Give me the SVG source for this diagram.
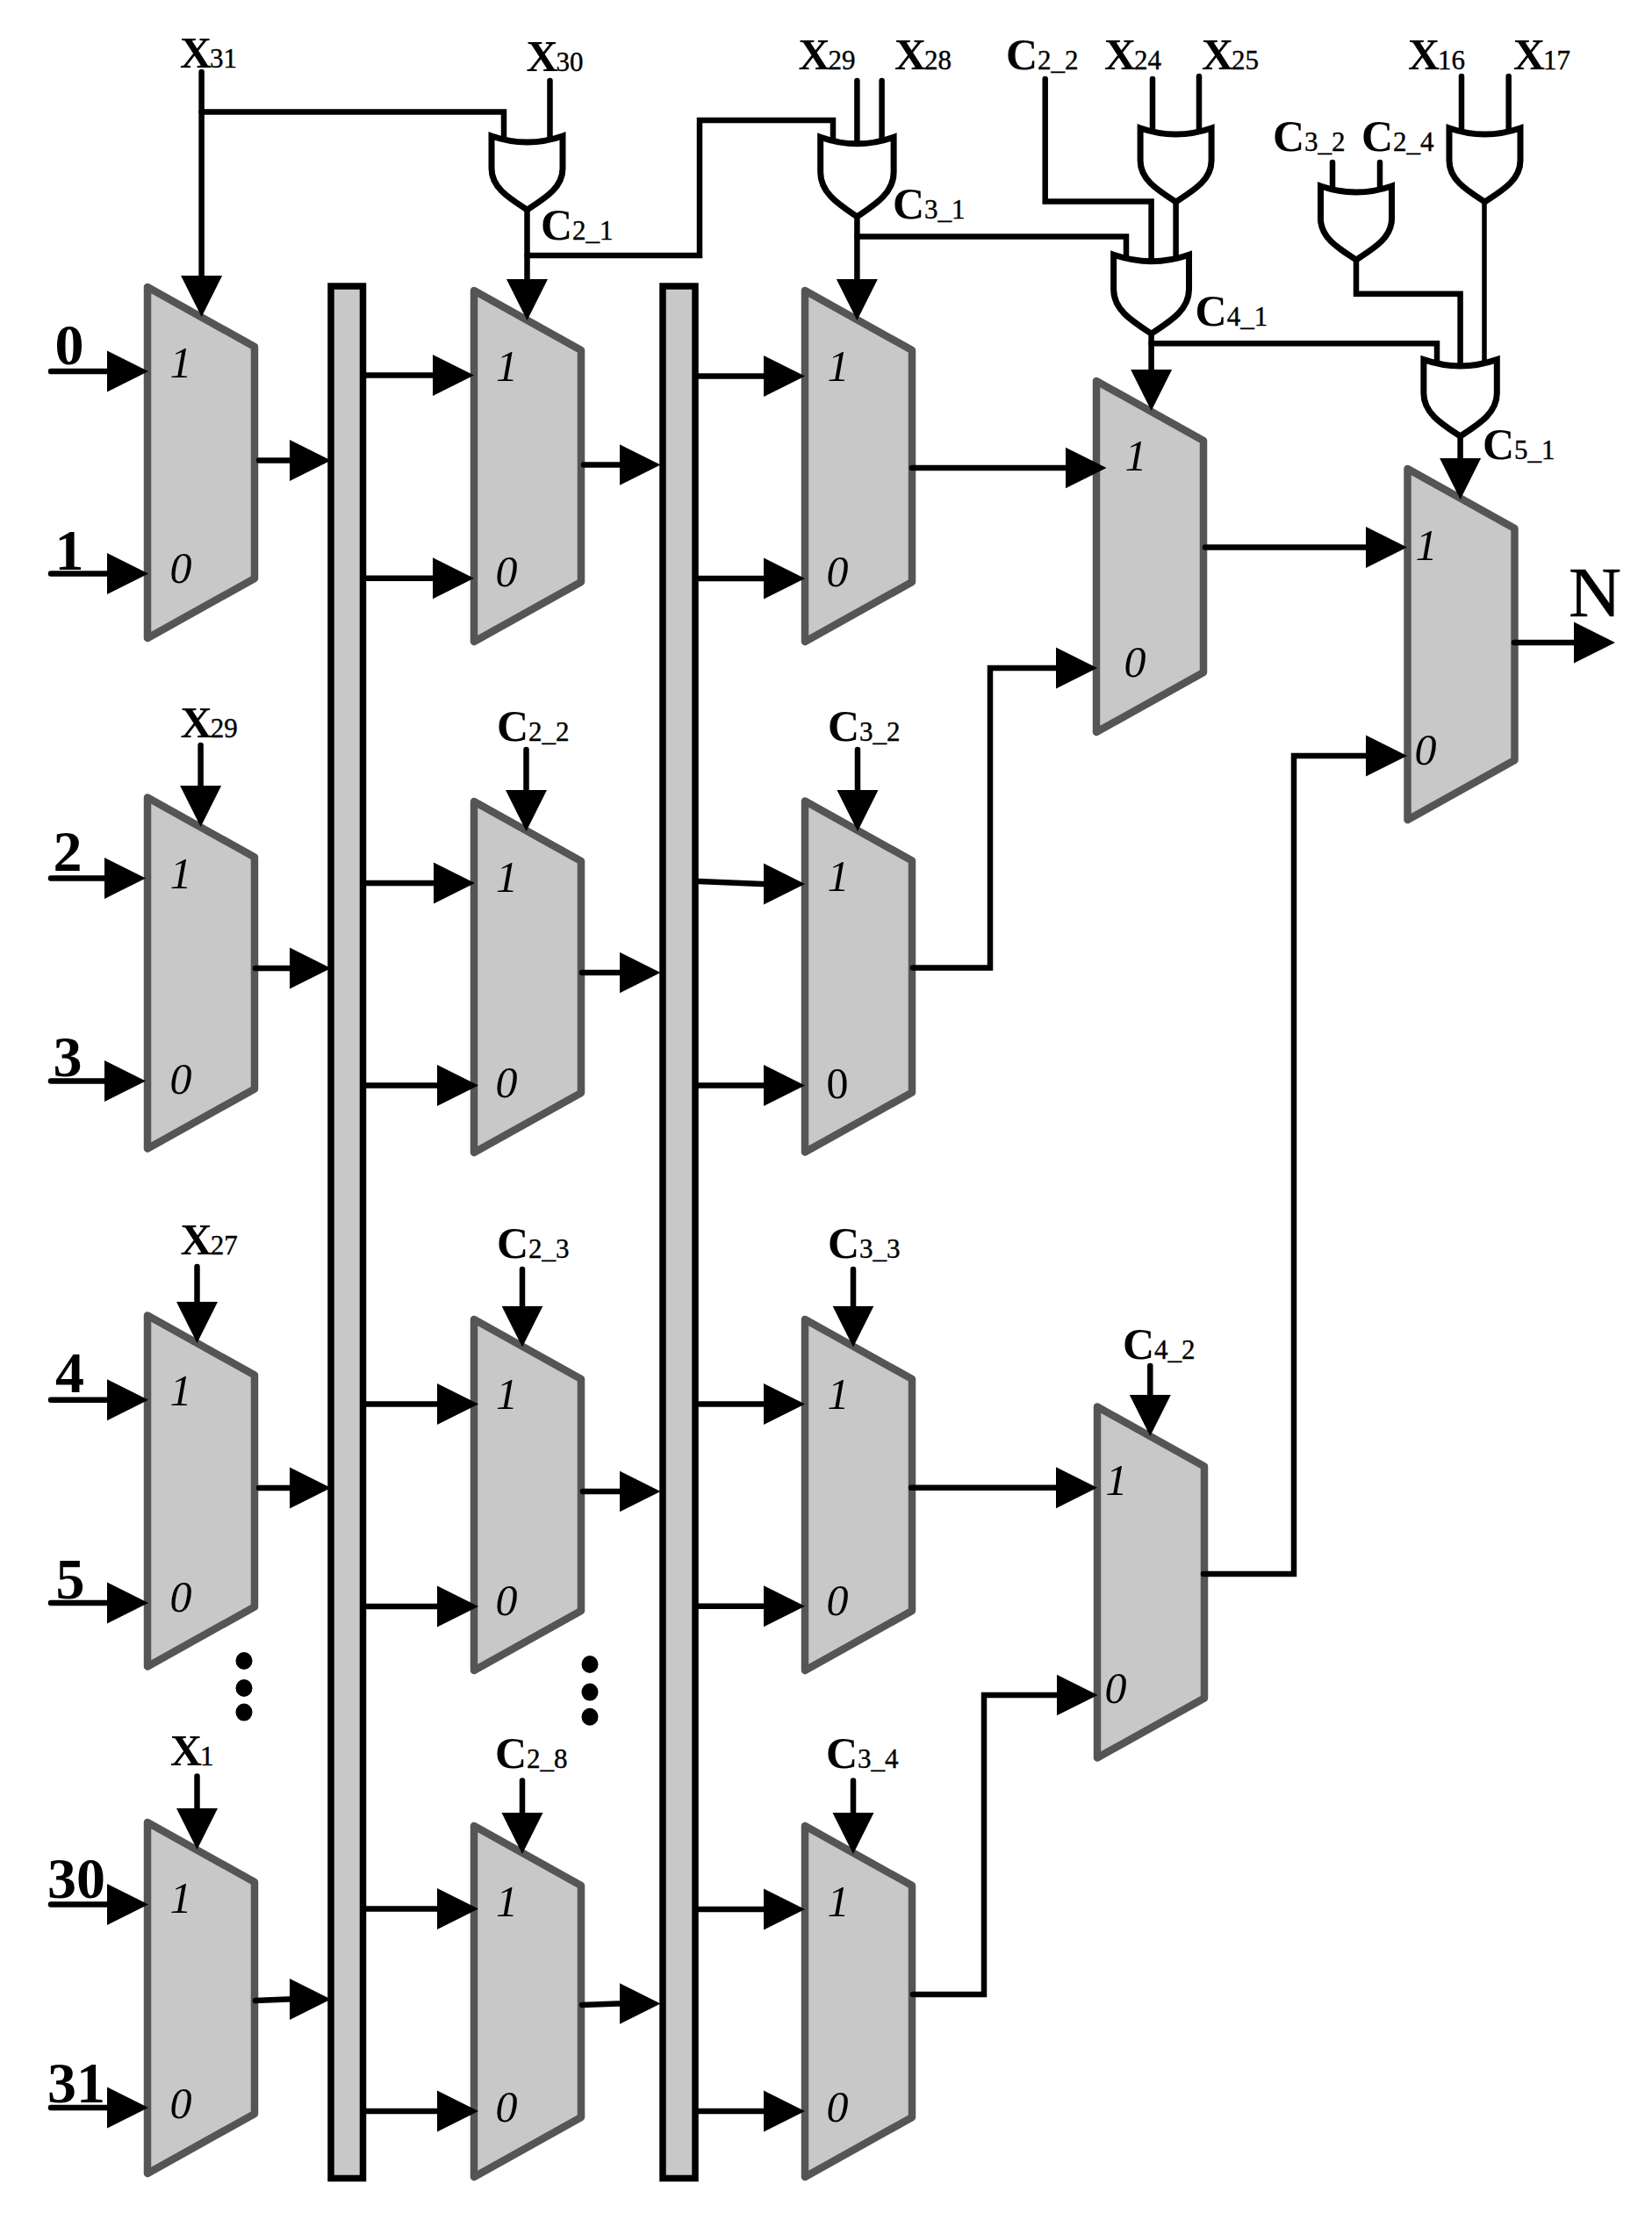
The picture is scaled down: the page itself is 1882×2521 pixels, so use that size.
<svg xmlns="http://www.w3.org/2000/svg" width="1882" height="2521" viewBox="0 0 1882 2521">
<style>
text{font-family:"Liberation Serif","Times New Roman",serif;fill:#000}
.bg{fill:#fff}
.mx{fill:#c8c8c8;stroke:#555;stroke-width:8.5;stroke-linejoin:round}
.bar{fill:#c8c8c8;stroke:#000;stroke-width:7.5}
.w{fill:none;stroke:#000;stroke-width:6.5;stroke-linecap:round;stroke-linejoin:miter}
.a{marker-end:url(#arr)}
.or{fill:#fff;stroke:#000;stroke-width:7;stroke-linejoin:miter;stroke-miterlimit:8;vector-effect:non-scaling-stroke}
.s{font-size:50px;font-style:italic;text-anchor:middle}
.in{font-size:66px;font-weight:bold;text-anchor:middle}
.lb{font-size:31px;stroke:#000;stroke-width:.4}
.m{font-size:50px;font-weight:bold;stroke:none}
.n{font-size:80px;stroke:#000;stroke-width:.6}
</style>
<defs>
<marker id="arr" markerUnits="userSpaceOnUse" viewBox="0 -24 47 48" refX="0" refY="0" markerWidth="47" markerHeight="48" orient="auto"><path d="M0,-23.5L47,0L0,23.5z" fill="#000"/></marker>
<polygon id="mux" class="mx" points="0,0 122,68 122,332 0,400"/>
<path id="orgate" class="or" d="M-40.5,3Q0,17 40.5,3V40C40.5,62 20,74 0,87C-20,74 -40.5,62 -40.5,40Z"/>
</defs>
<rect class="bg" width="1882" height="2521"/>
<g id="bar-1"><rect class="bar" x="377" y="326" width="36.5" height="2155.5"/></g>
<g id="bar-2"><rect class="bar" x="755" y="326" width="37" height="2155.5"/></g>
<g id="mux-1-1" transform="translate(168,327)"><use href="#mux"/><text class="s" x="38" y="103">1</text><text class="s" x="38" y="337">0</text></g>
<g id="mux-1-2" transform="translate(168,908.5)"><use href="#mux"/><text class="s" x="38" y="103">1</text><text class="s" x="38" y="337">0</text></g>
<g id="mux-1-3" transform="translate(168,1498.5)"><use href="#mux"/><text class="s" x="38" y="102">1</text><text class="s" x="38" y="337">0</text></g>
<g id="mux-1-4" transform="translate(168,2076)"><use href="#mux"/><text class="s" x="38" y="103">1</text><text class="s" x="38" y="337">0</text></g>
<g id="mux-2-1" transform="translate(540,331)"><use href="#mux"/><text class="s" x="37.5" y="103">1</text><text class="s" x="37" y="337">0</text></g>
<g id="mux-2-2" transform="translate(540,913)"><use href="#mux"/><text class="s" x="37.5" y="103">1</text><text class="s" x="37" y="337">0</text></g>
<g id="mux-2-3" transform="translate(540,1503)"><use href="#mux"/><text class="s" x="37.5" y="102">1</text><text class="s" x="37" y="337">0</text></g>
<g id="mux-2-4" transform="translate(540,2080)"><use href="#mux"/><text class="s" x="37.5" y="103">1</text><text class="s" x="37" y="337">0</text></g>
<g id="mux-3-1" transform="translate(917,331)"><use href="#mux"/><text class="s" x="38" y="103">1</text><text class="s" x="37" y="337">0</text></g>
<g id="mux-3-2" transform="translate(917,912.5)"><use href="#mux"/><text class="s" x="38" y="102">1</text><text class="s" x="37" y="338" style="font-style:normal">0</text></g>
<g id="mux-3-3" transform="translate(917,1503)"><use href="#mux"/><text class="s" x="38" y="102">1</text><text class="s" x="37" y="337">0</text></g>
<g id="mux-3-4" transform="translate(917,2080)"><use href="#mux"/><text class="s" x="38" y="103">1</text><text class="s" x="37" y="337">0</text></g>
<g id="mux-4-1" transform="translate(1249,434)"><use href="#mux"/><text class="s" x="45" y="102">1</text><text class="s" x="44" y="337">0</text></g>
<g id="mux-4-2" transform="translate(1250,1602.5)"><use href="#mux"/><text class="s" x="22" y="100.5">1</text><text class="s" x="21" y="337">0</text></g>
<g id="mux-5-1" transform="translate(1603.5,534)"><use href="#mux"/><text class="s" x="21.5" y="104">1</text><text class="s" x="20.5" y="337">0</text></g>
<g id="connectors">
<path class="w a" d="M58 423H122"/><path class="w a" d="M58 653.6H122"/>
<path class="w a" d="M58 1000.4H119"/><path class="w a" d="M58 1231.5H119"/>
<path class="w a" d="M58 1594.7H122"/><path class="w a" d="M58 1826H122"/>
<path class="w a" d="M58 2169.5H122"/><path class="w a" d="M58 2401H122"/>
<path class="w a" d="M295 524.5H330"/><path class="w a" d="M291 1103H330"/><path class="w a" d="M295 1695H330"/><path class="w a" d="M291 2279L328 2277.5H330"/>
<path class="w a" d="M417 427.5H493"/><path class="w a" d="M417 658.7H493"/>
<path class="w a" d="M417 1006H494"/><path class="w a" d="M417 1236.6H498"/>
<path class="w a" d="M417 1599.5H498"/><path class="w a" d="M417 1830H498"/>
<path class="w a" d="M417 2174.6H498"/><path class="w a" d="M417 2405H498"/>
<path class="w a" d="M665 529.6H705.5"/><path class="w a" d="M663 1108H705.5"/><path class="w a" d="M664 1699H705.5"/><path class="w a" d="M663 2284L703.5 2282.5H705.5"/>
<path class="w a" d="M796 428.6H870"/><path class="w a" d="M796 659H870"/>
<path class="w a" d="M796 1004L868 1007H870"/><path class="w a" d="M796 1236.6H870"/>
<path class="w a" d="M796 1599.5H870"/><path class="w a" d="M796 1829.7H870"/>
<path class="w a" d="M796 2175H870"/><path class="w a" d="M796 2405H870"/>
<path class="w a" d="M1039 533H1213.6"/>
<path class="w a" d="M1040 1102.4H1128V761H1203"/>
<path class="w a" d="M1038 1694.7H1203"/>
<path class="w a" d="M1040 2272H1121V1931H1203.6"/>
<path class="w a" d="M1373 623.5H1556"/>
<path class="w a" d="M1371 1793H1474V861H1556"/>
<path class="w a" d="M1725 732H1793"/>
<path class="w a" d="M229.6 82V314"/>
<path class="w a" d="M600.5 240V318"/>
<path class="w a" d="M976.4 250V318"/>
<path class="w a" d="M1311.6 381V421"/>
<path class="w a" d="M1663.6 499V522"/>
<path class="w a" d="M228.6 849V895"/><path class="w a" d="M599.5 854V900"/><path class="w a" d="M977 854V900"/>
<path class="w a" d="M224.5 1443V1483"/><path class="w a" d="M595 1446V1487.6"/><path class="w a" d="M972 1446V1487.6"/><path class="w a" d="M1310.3 1556V1589"/>
<path class="w a" d="M224.5 2023.5V2060"/><path class="w a" d="M595 2028.6V2065"/><path class="w a" d="M972 2028.6V2065"/>
<path class="w" d="M229.6 127.5H574V165"/>
<path class="w" d="M626.5 92V165"/>
<path class="w" d="M600.5 291H797V137H949V165"/>
<path class="w" d="M976.4 92V165"/><path class="w" d="M1004.6 92V165"/>
<path class="w" d="M976.4 269.4H1283V300"/>
<path class="w" d="M1190.7 90V229.6H1311.6V300"/>
<path class="w" d="M1339.6 229V300"/>
<path class="w" d="M1313 90V155"/><path class="w" d="M1366 87V155"/>
<path class="w" d="M1311.6 391.3H1637V418"/>
<path class="w" d="M1518 185V220"/><path class="w" d="M1572 185V220"/>
<path class="w" d="M1545 297V334.7H1663.6V420"/>
<path class="w" d="M1665 87V155"/><path class="w" d="M1718.7 87V155"/>
<path class="w" d="M1691 232V416" style="stroke-width:5.5"/>
</g>
<g id="or-1" transform="translate(600.5,152)"><use href="#orgate"/></g>
<g id="or-2" transform="translate(976.4,153) scale(1.03,1.08)"><use href="#orgate"/></g>
<g id="or-3" transform="translate(1339.6,143)"><use href="#orgate"/></g>
<g id="or-4" transform="translate(1311.6,287) scale(1.06,1.07)"><use href="#orgate"/></g>
<g id="or-5" transform="translate(1545,209)"><use href="#orgate"/></g>
<g id="or-6" transform="translate(1691.5,143)"><use href="#orgate"/></g>
<g id="or-7" transform="translate(1663.6,406.5) scale(1.03,1.04)"><use href="#orgate"/></g>
<g id="dots">
<ellipse cx="278" cy="1892" rx="9.5" ry="10"/><ellipse cx="278" cy="1923" rx="9.5" ry="10"/><ellipse cx="278" cy="1950.6" rx="9.5" ry="10"/>
<ellipse cx="672" cy="1896" rx="9.5" ry="10"/><ellipse cx="672" cy="1927.6" rx="9.5" ry="10"/><ellipse cx="672" cy="1955.7" rx="9.5" ry="10"/>
</g>
<g id="labels">
<text class="in" x="79" y="415">0</text><text class="in" x="79" y="649">1</text>
<text class="in" x="77" y="992">2</text><text class="in" x="77" y="1226">3</text>
<text class="in" x="79.5" y="1586">4</text><text class="in" x="80" y="1821">5</text>
<text class="in" x="87" y="2162">30</text><text class="in" x="87" y="2394.5">31</text>
<text class="lb" x="205" y="76.5"><tspan class="m">X</tspan><tspan dx="-2">31</tspan></text>
<text class="lb" x="599.5" y="80.6"><tspan class="m">X</tspan><tspan dx="-2">30</tspan></text>
<text class="lb" x="616" y="273"><tspan class="m">C</tspan><tspan>2_1</tspan></text>
<text class="lb" x="909.4" y="79"><tspan class="m">X</tspan><tspan dx="-2">29</tspan></text>
<text class="lb" x="1019" y="79"><tspan class="m">X</tspan><tspan dx="-2">28</tspan></text>
<text class="lb" x="1146" y="79"><tspan class="m">C</tspan><tspan>2_2</tspan></text>
<text class="lb" x="1258" y="79"><tspan class="m">X</tspan><tspan dx="-2">24</tspan></text>
<text class="lb" x="1369" y="79"><tspan class="m">X</tspan><tspan dx="-2">25</tspan></text>
<text class="lb" x="1604" y="79"><tspan class="m">X</tspan><tspan dx="-2">16</tspan></text>
<text class="lb" x="1724" y="79"><tspan class="m">X</tspan><tspan dx="-2">17</tspan></text>
<text class="lb" x="1450" y="172"><tspan class="m">C</tspan><tspan>3_2</tspan></text>
<text class="lb" x="1551" y="172"><tspan class="m">C</tspan><tspan>2_4</tspan></text>
<text class="lb" x="1017" y="249"><tspan class="m">C</tspan><tspan>3_1</tspan></text>
<text class="lb" x="1361.6" y="371"><tspan class="m">C</tspan><tspan>4_1</tspan></text>
<text class="lb" x="1689" y="523"><tspan class="m">C</tspan><tspan>5_1</tspan></text>
<text class="n" x="1787" y="701.5" textLength="60" lengthAdjust="spacingAndGlyphs">N</text>
<text class="lb" x="205.6" y="840"><tspan class="m">X</tspan><tspan dx="-2">29</tspan></text>
<text class="lb" x="566" y="844"><tspan class="m">C</tspan><tspan>2_2</tspan></text>
<text class="lb" x="943" y="844"><tspan class="m">C</tspan><tspan>3_2</tspan></text>
<text class="lb" x="205.6" y="1429"><tspan class="m">X</tspan><tspan dx="-2">27</tspan></text>
<text class="lb" x="566" y="1433"><tspan class="m">C</tspan><tspan>2_3</tspan></text>
<text class="lb" x="943" y="1433"><tspan class="m">C</tspan><tspan>3_3</tspan></text>
<text class="lb" x="1279" y="1548"><tspan class="m">C</tspan><tspan>4_2</tspan></text>
<text class="lb" x="194" y="2011"><tspan class="m">X</tspan><tspan dx="-2">1</tspan></text>
<text class="lb" x="564" y="2014"><tspan class="m">C</tspan><tspan>2_8</tspan></text>
<text class="lb" x="941" y="2014"><tspan class="m">C</tspan><tspan>3_4</tspan></text>
</g>
</svg>
